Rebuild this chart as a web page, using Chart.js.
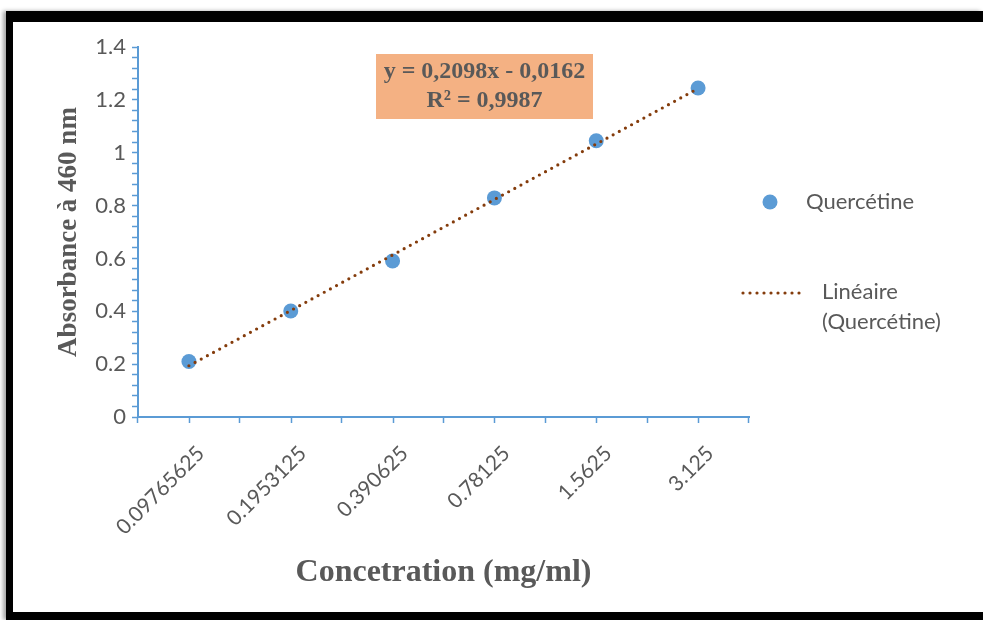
<!DOCTYPE html>
<html><head><meta charset="utf-8">
<script src="https://cdn.jsdelivr.net/npm/chart.js@4.4.1/dist/chart.umd.min.js"></script>
<style>
html,body{margin:0;padding:0;background:#fff;width:983px;height:620px;overflow:hidden}
#frame{position:absolute;left:6px;top:11px;width:977px;height:609px;background:#000;box-shadow:-3px 0 4px rgba(0,0,0,0.35)}
#inner{position:absolute;left:13px;top:22px;width:970px;height:590px;background:#fff}
canvas{display:block}
</style></head><body>
<div id="frame"></div>
<div id="inner"><canvas id="c" width="970" height="590"></canvas></div>
<script>
// ---- data ----
const categories = ['0.09765625', '0.1953125', '0.390625', '0.78125', '1.5625', '3.125'];
const absorbance = [0.210, 0.401, 0.590, 0.829, 1.045, 1.245];
const trendValues = [0.194, 0.403, 0.613, 0.823, 1.033, 1.243];
const yMajorTicks = [0, 0.2, 0.4, 0.6, 0.8, 1, 1.2, 1.4];
const yMinorStep = 0.04;
const seriesName = 'Quercétine';
const trendName = ['Linéaire', '(Quercétine)'];
const equationLines = ['y = 0,2098x - 0,0162', 'R² = 0,9987'];
const xTitle = 'Concetration (mg/ml)';
const yTitle = 'Absorbance à 460 nm';

const yTickValues = [];
for (let i = 0; i <= Math.round(1.4 / yMinorStep); i++) yTickValues.push(Math.round(i * yMinorStep * 100) / 100);

const AXIS = '#5B9BD5';
const TEXT = '#595959';
const SANS = 'Lato';
const SERIF = "'Liberation Serif'";

const extras = {
  id: 'extras',
  afterDraw(chart) {
    const ctx = chart.ctx;
    const ca = chart.chartArea;
    const xs = chart.scales.x;
    // minor ticks at category centres
    ctx.save();
    ctx.strokeStyle = AXIS; ctx.lineWidth = 1.5;
    categories.forEach((c, i) => {
      const x = Math.round(xs.getPixelForValue(i)) + 0.5;
      ctx.beginPath(); ctx.moveTo(x, ca.bottom); ctx.lineTo(x, ca.bottom + 6); ctx.stroke();
    });
    ctx.restore();
    // equation box
    ctx.save();
    const bx = ca.left + 238, by = ca.top + 7, bw = 217, bh = 65;
    ctx.fillStyle = '#F4B183';
    ctx.fillRect(bx, by, bw, bh);
    ctx.fillStyle = TEXT;
    ctx.font = 'bold 24px ' + SERIF;
    ctx.textAlign = 'center'; ctx.textBaseline = 'middle';
    ctx.fillText(equationLines[0], bx + bw / 2, by + 18);
    ctx.fillText(equationLines[1], bx + bw / 2, by + 47);
    ctx.restore();
    // legend
    ctx.save();
    const lx = ca.right;
    ctx.fillStyle = AXIS;
    ctx.beginPath(); ctx.arc(lx + 21, ca.top + 155, 7.5, 0, Math.PI * 2); ctx.fill();
    ctx.fillStyle = TEXT;
    ctx.font = '22px ' + SANS;
    ctx.textAlign = 'left'; ctx.textBaseline = 'middle';
    ctx.fillText(seriesName, lx + 57, ca.top + 155);
    ctx.strokeStyle = '#843C0C'; ctx.lineWidth = 3.2; ctx.lineCap = 'round';
    ctx.setLineDash([0, 7]);
    ctx.beginPath(); ctx.moveTo(lx - 6, ca.top + 246); ctx.lineTo(lx + 52, ca.top + 246); ctx.stroke();
    ctx.setLineDash([]);
    ctx.fillText(trendName[0], lx + 73, ca.top + 245);
    ctx.fillText(trendName[1], lx + 73, ca.top + 275);
    ctx.restore();
  }
};

new Chart(document.getElementById('c'), {
  type: 'line',
  data: {
    labels: categories,
    datasets: [
      {
        label: trendName.join(' '),
        data: trendValues,
        borderColor: '#843C0C',
        borderWidth: 3.2,
        borderDash: [0, 7],
        borderCapStyle: 'round',
        pointRadius: 0,
        fill: false,
        order: 0
      },
      {
        label: seriesName,
        data: absorbance,
        showLine: false,
        pointRadius: 7.5,
        pointHoverRadius: 7.5,
        pointBackgroundColor: AXIS,
        pointBorderWidth: 0,
        order: 1
      }
    ]
  },
  options: {
    responsive: false,
    animation: false,
    devicePixelRatio: 1,
    layout: { padding: { left: 40, top: 25, right: 234, bottom: 20 } },
    plugins: { legend: { display: false }, tooltip: { enabled: false } },
    scales: {
      x: {
        offset: true,
        afterFit: (s) => { s.height = 175; },
        border: { display: true, color: AXIS, width: 2 },
        grid: { display: true, offset: true, drawOnChartArea: false, drawTicks: true, tickLength: 6, color: AXIS, tickWidth: 1.5 },
        ticks: { color: TEXT, font: { family: SANS, size: 21 }, minRotation: 45, maxRotation: 45, padding: 18, autoSkip: false, labelOffset: 12 },
        title: { display: true, text: xTitle, color: TEXT, font: { family: SERIF, size: 32, weight: 'bold' }, padding: 0 }
      },
      y: {
        min: 0, max: 1.4,
        afterFit: (s) => { s.width = 85; },
        afterBuildTicks: (s) => { s.ticks = yTickValues.map(v => ({ value: v })); },
        border: { display: true, color: AXIS, width: 2 },
        grid: { display: true, drawOnChartArea: false, drawTicks: true, tickLength: 6, color: AXIS, tickWidth: 1.5 },
        ticks: {
          color: TEXT, font: { family: SANS, size: 22 }, padding: 6, autoSkip: false,
          callback: (v) => { const r = Math.round(v * 100) / 100; return yMajorTicks.includes(r) ? String(r) : ''; }
        },
        title: { display: true, text: yTitle, color: TEXT, font: { family: SERIF, size: 27, weight: 'bold' }, padding: 0 }
      }
    }
  },
  plugins: [extras]
});
</script>
</body></html>
